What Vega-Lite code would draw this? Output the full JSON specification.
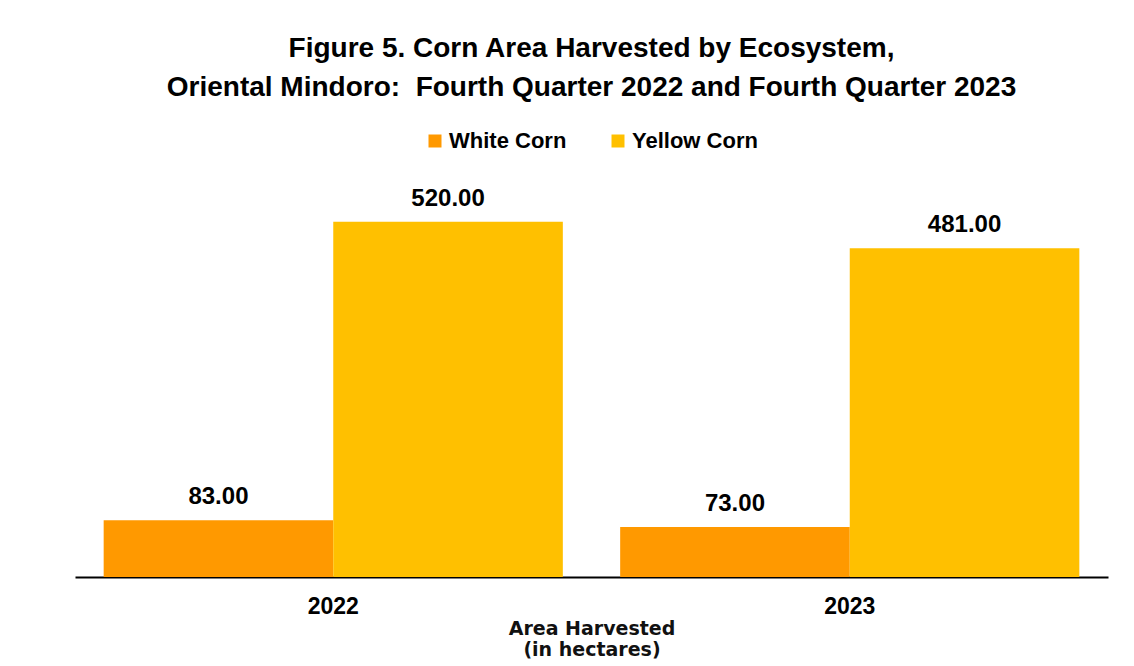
{
  "$schema": "https://vega.github.io/schema/vega-lite/v6.json",
  "width": 1033,
  "height": 410,
  "autosize": "none",
  "padding": {"left": 75, "top": 167, "right": 26, "bottom": 89},
  "background": "white",
  "title": {
    "text": ["Figure 5. Corn Area Harvested by Ecosystem,", "Oriental Mindoro:\u00a0 Fourth Quarter 2022 and Fourth Quarter 2023"],
    "font": "Liberation Sans",
    "fontSize": 28,
    "fontWeight": "bold",
    "color": "black",
    "lineHeight": 39,
    "anchor": "middle",
    "offset": 28
  },
  "data": {
    "values": [
      {"year": "2022", "type": "White Corn", "value": 83},
      {"year": "2022", "type": "Yellow Corn", "value": 520},
      {"year": "2023", "type": "White Corn", "value": 73},
      {"year": "2023", "type": "Yellow Corn", "value": 481}
    ]
  },
  "encoding": {
    "x": {
      "field": "year",
      "type": "nominal",
      "scale": {"paddingInner": 0.111, "paddingOuter": 0.0555},
      "axis": {
        "title": ["Area Harvested", "(in hectares)"],
        "titleFont": "DejaVu Sans",
        "titleFontSize": 19,
        "titleFontWeight": "bold",
        "titleColor": "#111",
        "titleLineHeight": 21,
        "titlePadding": 1,
        "labelFont": "Liberation Sans",
        "labelFontSize": 23,
        "labelFontWeight": "bold",
        "labelColor": "black",
        "labelAngle": 0,
        "labelPadding": 18,
        "ticks": false,
        "domainColor": "black",
        "domainWidth": 2
      }
    },
    "xOffset": {"field": "type", "type": "nominal", "scale": {"paddingInner": 0, "paddingOuter": 0}},
    "y": {
      "field": "value",
      "type": "quantitative",
      "scale": {"domain": [0, 600]},
      "axis": null
    }
  },
  "layer": [
    {
      "mark": {"type": "bar"},
      "encoding": {
        "color": {
          "field": "type",
          "type": "nominal",
          "scale": {"domain": ["White Corn", "Yellow Corn"], "range": ["#FF9900", "#FFC000"]},
          "legend": {
            "title": null,
            "orient": "none",
            "legendX": 349,
            "legendY": -37,
            "direction": "horizontal",
            "symbolType": "square",
            "symbolSize": 169,
            "symbolStrokeWidth": 0,
            "labelFont": "Liberation Sans",
            "labelFontSize": 22,
            "labelFontWeight": "bold",
            "labelColor": "black",
            "labelOffset": 3,
            "columnPadding": 40
          }
        }
      }
    },
    {
      "mark": {"type": "text", "dy": -16, "baseline": "alphabetic", "font": "Liberation Sans", "fontSize": 24, "fontWeight": "bold", "color": "black"},
      "encoding": {
        "text": {"field": "value", "type": "quantitative", "format": ".2f"}
      }
    }
  ],
  "config": {
    "view": {"stroke": null}
  }
}
